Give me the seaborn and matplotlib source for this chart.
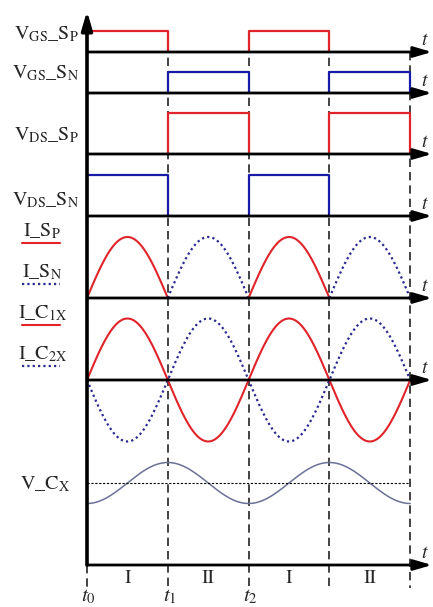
import numpy as np
import pandas as pd
import matplotlib
matplotlib.use("Agg")
import matplotlib.pyplot as plt
import seaborn as sns

# ---------------- data (per half-period interval t0..t4) ----------------
interval_names = ["I", "II", "I", "II"]
edge_labels = [r"$t_0$", r"$t_1$", r"$t_2$"]
vgs_sp = [1, 0, 1, 0]
vgs_sn = [0, 1, 0, 1]
vds_sp = [0, 1, 0, 1]
vds_sn = [1, 0, 1, 0]
i_sp = [1, 0, 1, 0]          # half-sine lobes
i_sn = [0, 1, 0, 1]
i_c1x = [1, -1, 1, -1]       # sine half-waves
i_c2x = [-1, 1, -1, 1]
v_cx = [-1, 1, -1, 1, -1]    # V_Cx ripple extremes at t0..t4

row_labels = [r"$\mathrm{V_{GS}\_S_P}$", r"$\mathrm{V_{GS}\_S_N}$",
              r"$\mathrm{V_{DS}\_S_P}$", r"$\mathrm{V_{DS}\_S_N}$",
              r"$\mathrm{I\_S_P}$", r"$\mathrm{I\_S_N}$",
              r"$\mathrm{I\_C_{1X}}$", r"$\mathrm{I\_C_{2X}}$",
              r"$\mathrm{V\_C_X}$"]

# ---------------- layout ----------------
W, H = 433, 607
X0, UNIT = 87, 80.8
RED, BLUE, DBLUE, GRAYB = "#e0242a", "#1a1aa8", "#2a2a90", "#6b7096"

sns.set_style("white")
plt.rcParams["font.family"] = ["STIXGeneral", "DejaVu Serif"]
plt.rcParams["mathtext.fontset"] = "stix"

fig = plt.figure(figsize=(W / 100, H / 100), dpi=100)
ax = fig.add_axes([0, 0, 1, 1])
ax.set_xlim(-X0 / UNIT, (W - X0) / UNIT)
ax.set_ylim(H, 0)
ax.axis("off")

def xp(px):
    return (px - X0) / UNIT

n = len(interval_names)

def line(xs, ys, **kw):
    df = pd.DataFrame({"x": xs, "y": ys})
    sns.lineplot(data=df, x="x", y="y", ax=ax, sort=False, estimator=None,
                 legend=False, **kw)

# square-wave rows: (values, baseline px, amplitude px, colour)
square_rows = [(vgs_sp, 52, 21, RED), (vgs_sn, 93, 21, BLUE),
               (vds_sp, 154, 41, RED), (vds_sn, 216, 41, BLUE)]
for vals, base, amp, col in square_rows:
    for k, v in enumerate(vals):
        if v:
            line([k, k, k + 1, k + 1], [base, base - amp * v, base - amp * v, base],
                 color=col, lw=1.6)

s = np.linspace(0, 1, 80)
# switch currents
base_i, amp_i = 298, 61
for k in range(n):
    if i_sp[k]:
        line(k + s, base_i - amp_i * i_sp[k] * np.sin(np.pi * s), color=RED, lw=1.5)
    if i_sn[k]:
        line(k + s, base_i - amp_i * i_sn[k] * np.sin(np.pi * s), color=DBLUE,
             lw=1.6, linestyle=(0, (1, 1.4)))

# capacitor currents
base_c, amp_c = 380, 61.5
tc = np.concatenate([k + s for k in range(n)])
c1 = np.concatenate([i_c1x[k] * np.sin(np.pi * s) for k in range(n)])
c2 = np.concatenate([i_c2x[k] * np.sin(np.pi * s) for k in range(n)])
line(tc, base_c - amp_c * c2, color=DBLUE, lw=1.6, linestyle=(0, (1, 1.4)))
line(tc, base_c - amp_c * c1, color=RED, lw=1.5)

# capacitor voltage
base_v, amp_v = 483, 20.5
vv = np.concatenate([v_cx[k] + (v_cx[k + 1] - v_cx[k]) * (1 - np.cos(np.pi * s)) / 2
                     for k in range(n)])
line(tc, base_v - amp_v * vv, color=GRAYB, lw=1.1)
ax.plot([0, n], [base_v, base_v], color="k", lw=0.8, linestyle=(0, (2, 1.5)))

# dashed time markers
dash = dict(color="#222222", lw=1.2, linestyle=(0, (5, 3)), zorder=1)
ax.plot([0, 0], [565, 588], **dash)
for k in range(1, n):
    ax.plot([k, k], [31, 588], **dash)
ax.plot([n, n], [52, 588], **dash)

# axes with arrows
axis_bases = [52, 93, 154, 216, 298, 380, 565]
aprops = dict(arrowstyle="-|>,head_length=1.1,head_width=0.32", lw=2,
              color="black", shrinkA=0, shrinkB=0)
for b in axis_bases:
    ax.annotate("", xy=(xp(432), b), xytext=(0, b), arrowprops=aprops, zorder=5)
    ax.text(xp(425), b - 12, r"$t$", fontsize=14, ha="center", va="center")
ax.annotate("", xy=(0, 11), xytext=(0, 565),
            arrowprops=dict(aprops, lw=2.6), zorder=5)

# row labels
label_pos = [(46, 34), (46, 73), (46, 135), (46, 200), (42, 231), (42, 272),
             (43, 313), (43, 354), (45, 484)]
for txt, (lx, ly) in zip(row_labels, label_pos):
    ax.text(xp(lx), ly, txt, fontsize=14.5, ha="center", va="center")

# legend strokes under current labels
ax.plot([xp(22), xp(60)], [243, 243], color=RED, lw=1.5)
ax.plot([xp(22), xp(60)], [284, 284], color=DBLUE, lw=1.6, linestyle=(0, (1, 1.4)))
ax.plot([xp(22), xp(60)], [325, 325], color=RED, lw=1.5)
ax.plot([xp(22), xp(60)], [366, 366], color=DBLUE, lw=1.6, linestyle=(0, (1, 1.4)))

# interval and time labels
for k, name in enumerate(interval_names):
    ax.text(k + 0.5, 578, name, fontsize=14, ha="center", va="center")
for k, lab in enumerate(edge_labels):
    ax.text(k + 0.02, 596, lab, fontsize=15, ha="center", va="center")

fig.savefig("out.png", dpi=100)
